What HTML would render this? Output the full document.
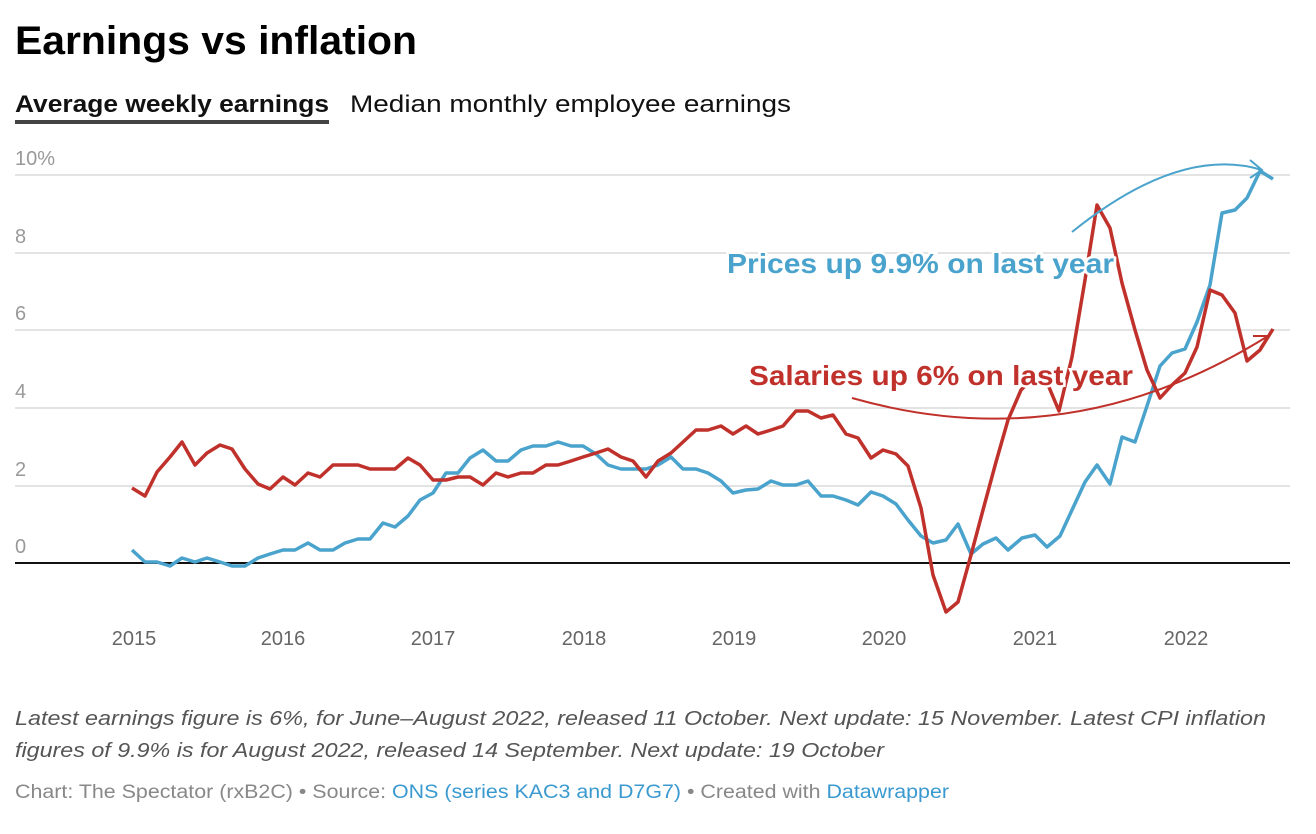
<!DOCTYPE html>
<html><head><meta charset="utf-8"><style>
html,body{margin:0;padding:0;background:#fff;}
svg{display:block;font-family:"Liberation Sans",sans-serif;}
</style></head><body>
<svg width="1316" height="834" viewBox="0 0 1316 834">
<text x="15" y="54" font-size="40" font-weight="bold" fill="#000" textLength="402" lengthAdjust="spacingAndGlyphs">Earnings vs inflation</text>
<text x="15" y="112" font-size="24" font-weight="bold" fill="#111" textLength="314" lengthAdjust="spacingAndGlyphs">Average weekly earnings</text>
<rect x="15" y="120" width="314" height="4" fill="#444"/>
<text x="350" y="112" font-size="24" fill="#111" textLength="441" lengthAdjust="spacingAndGlyphs">Median monthly employee earnings</text>
<g stroke="#e3e3e3" stroke-width="2">
<line x1="15" y1="175" x2="1290" y2="175"/><line x1="15" y1="253" x2="1290" y2="253"/>
<line x1="15" y1="330" x2="1290" y2="330"/><line x1="15" y1="408" x2="1290" y2="408"/>
<line x1="15" y1="486" x2="1290" y2="486"/></g>
<line x1="15" y1="563" x2="1290" y2="563" stroke="#111" stroke-width="2"/>
<g font-size="20" fill="#999">
<text x="15" y="165">10%</text><text x="15" y="243">8</text><text x="15" y="320">6</text>
<text x="15" y="398">4</text><text x="15" y="476">2</text><text x="15" y="553">0</text></g>
<g font-size="20" fill="#666" text-anchor="middle">
<text x="134" y="645">2015</text><text x="283" y="645">2016</text><text x="433" y="645">2017</text>
<text x="584" y="645">2018</text><text x="734" y="645">2019</text><text x="884" y="645">2020</text>
<text x="1035" y="645">2021</text><text x="1186" y="645">2022</text></g>
<polyline fill="none" stroke="#4aa3cc" stroke-width="3.5" stroke-linejoin="round" points="132,550 145,562 157,562 170,566 182,558 195,562 207,558 220,562 232,566 245,566 258,558 270,554 283,550 295,550 308,543 320,550 333,550 345,543 358,539 370,539 383,523 395,527 408,516 420,500 433,493 446,473 458,473 470,458 483,450 496,461 508,461 521,450 533,446 546,446 558,442 571,446 583,446 596,454 608,465 621,469 633,469 646,469 658,465 671,457 683,469 696,469 708,473 721,481 733,493 746,490 758,489 771,481 783,485 796,485 808,481 821,496 833,496 846,500 858,505 871,492 883,496 896,504 908,520 921,536 933,543 946,540 958,524 971,554 983,544 996,538 1008,550 1022,538 1035,535 1047,547 1060,536 1072,510 1085,482 1097,465 1110,484 1122,437 1135,442 1147,406 1160,366 1172,353 1185,349 1197,322 1210,285 1222,213 1235,210 1247,198 1260,171 1273,179"/>
<polyline fill="none" stroke="#c0312b" stroke-width="3.5" stroke-linejoin="round" points="132,488 145,496 157,472 170,457 182,442 195,465 207,453 220,445 232,449 245,469 258,484 270,489 283,477 295,485 308,473 320,477 333,465 345,465 358,465 370,469 383,469 395,469 408,458 420,465 433,480 446,480 458,477 470,477 483,485 496,473 508,477 521,473 533,473 546,465 558,465 571,461 583,457 596,453 608,449 621,457 633,461 646,477 658,461 671,453 683,442 696,430 708,430 721,426 733,434 746,426 758,434 771,430 783,426 796,411 808,411 821,418 833,415 846,434 858,438 871,458 883,450 896,454 908,466 921,508 933,575 946,612 958,602 971,555 983,510 996,462 1008,420 1021,390 1033,378 1046,380 1059,411 1072,357 1085,280 1097,205 1110,228 1122,283 1135,330 1147,370 1160,398 1172,385 1185,373 1197,347 1210,290 1222,295 1235,313 1247,361 1260,350 1273,329"/>
<path d="M1072,232 Q1180,145 1262,170" fill="none" stroke="#4aa3cc" stroke-width="2"/>
<path d="M1250,160 L1262,170 L1250,178" fill="none" stroke="#4aa3cc" stroke-width="2"/>
<path d="M852,398 Q1070,460 1268,336" fill="none" stroke="#c0312b" stroke-width="2"/>
<path d="M1253,336 L1268,336 L1260,348" fill="none" stroke="#c0312b" stroke-width="2"/>
<text x="727" y="273" font-size="28" font-weight="bold" fill="#4aa3cc" stroke="#fff" stroke-width="5" paint-order="stroke" textLength="387" lengthAdjust="spacingAndGlyphs">Prices up 9.9% on last year</text>
<text x="749" y="385" font-size="28" font-weight="bold" fill="#c0312b" stroke="#fff" stroke-width="5" paint-order="stroke" textLength="384" lengthAdjust="spacingAndGlyphs">Salaries up 6% on last year</text>
<g font-size="20" font-style="italic" fill="#555">
<text x="15" y="725" textLength="1251" lengthAdjust="spacingAndGlyphs">Latest earnings figure is 6%, for June–August 2022, released 11 October. Next update: 15 November. Latest CPI inflation</text>
<text x="15" y="757" textLength="869" lengthAdjust="spacingAndGlyphs">figures of 9.9% is for August 2022, released 14 September. Next update: 19 October</text></g>
<text x="15" y="798" font-size="19" fill="#888" textLength="934" lengthAdjust="spacingAndGlyphs">Chart: The Spectator (rxB2C) • Source: <tspan fill="#3a9ad0">ONS (series KAC3 and D7G7)</tspan> • Created with <tspan fill="#3a9ad0">Datawrapper</tspan></text>
</svg>
</body></html>
